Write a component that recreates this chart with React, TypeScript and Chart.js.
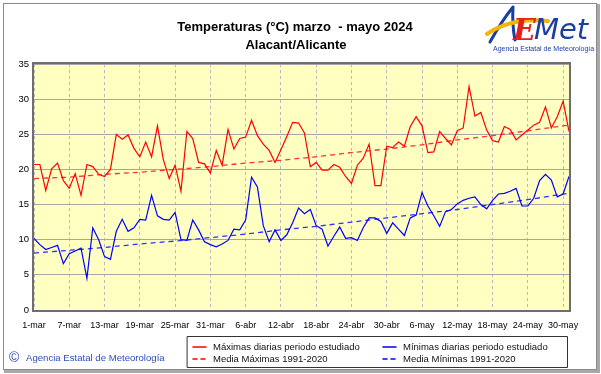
import { useEffect, useRef } from 'react';
import { Chart, registerables } from 'chart.js';

Chart.register(...registerables);

const tickLabels = ['1-mar', '7-mar', '13-mar', '19-mar', '25-mar', '31-mar', '6-abr', '12-abr', '18-abr', '24-abr', '30-abr', '6-may', '12-may', '18-may', '24-may', '30-may'];
const tickDays = [0, 6, 12, 18, 24, 30, 36, 42, 48, 54, 60, 66, 72, 78, 84, 90];
const yTicks = [0, 5, 10, 15, 20, 25, 30, 35];

const maxTemps = [
  20.7, 20.7, 17.0, 20.1, 20.9, 18.4, 17.3, 19.4, 16.3, 20.7,
  20.4, 19.3, 19.0, 20.0, 25.0, 24.3, 24.9, 23.0, 21.8, 23.9,
  21.8, 26.2, 21.4, 18.7, 20.6, 16.9, 25.4, 24.4, 21.0, 20.8,
  19.5, 22.7, 20.6, 25.7, 22.9, 24.4, 24.6, 27.0, 24.8, 23.6,
  22.7, 21.0, 22.8, 24.7, 26.7, 26.6, 25.2, 20.4, 21.0, 19.9,
  19.9, 20.7, 20.3, 19.0, 18.0, 20.6, 21.6, 23.6, 17.7, 17.7,
  23.3, 23.1, 23.9, 23.3, 26.1, 27.5, 26.2, 22.4, 22.5, 25.4,
  24.4, 23.5, 25.5, 25.9, 31.8, 27.6, 28.1, 25.6, 24.1, 23.9,
  26.1, 25.7, 24.2, 24.9, 25.6, 26.3, 26.7, 28.9, 25.9, 27.5,
  29.7, 25.4,
];

const minTemps = [
  10.2, 9.3, 8.6, 8.9, 9.2, 6.6, 8.0, 8.4, 8.8, 4.5,
  11.7, 10.0, 7.6, 7.2, 11.2, 12.9, 11.2, 11.7, 12.9, 12.8,
  16.3, 13.4, 12.9, 12.8, 13.9, 10.0, 9.9, 12.8, 11.4, 9.7,
  9.3, 9.0, 9.4, 9.9, 11.5, 11.4, 12.8, 18.9, 17.5, 12.0,
  9.7, 11.4, 9.9, 10.7, 12.4, 14.5, 13.7, 14.3, 12.0, 11.5,
  9.1, 10.5, 11.8, 10.2, 10.3, 9.9, 11.7, 13.1, 13.1, 12.6,
  10.9, 12.4, 11.5, 10.6, 13.1, 13.5, 16.7, 14.8, 13.4, 11.9,
  14.0, 14.3, 15.1, 15.6, 15.9, 16.1, 15.0, 14.4, 15.6, 16.5,
  16.6, 16.9, 17.3, 14.8, 14.8, 15.9, 18.4, 19.3, 18.5, 16.1,
  16.5, 19.0,
];

const normalDays = [0, 6, 12, 18, 24, 30, 36, 42, 48, 54, 60, 66, 72, 78, 84, 90, 91];
const normalMax = [18.7, 18.9, 19.3, 19.6, 20.0, 20.4, 20.9, 21.3, 21.8, 22.4, 22.9, 23.5, 24.2, 24.8, 25.5, 26.2, 26.3];
const normalMin = [8.1, 8.5, 8.9, 9.4, 9.8, 10.3, 10.8, 11.4, 11.9, 12.5, 13.1, 13.7, 14.3, 15.0, 15.7, 16.5, 16.6];

const legendLabels = ['Máximas diarias periodo estudiado', 'Mínimas diarias periodo estudiado', 'Media Máximas 1991-2020', 'Media Mínimas 1991-2020'];
const titleLines = ['Temperaturas (°C) marzo  - mayo 2024', 'Alacant/Alicante'];
const FONT = '"Liberation Sans", Arial, sans-serif';
const RED = '#ff0000';
const BLUE = '#0000ff';
const LOGO_BLUE = '#1b3f9e';

const decor = {
  id: 'decor',
  beforeDraw(chart: any) {
    const { ctx, chartArea: a } = chart;
    ctx.save();
    ctx.fillStyle = '#ffffff';
    ctx.fillRect(0, 0, chart.width, chart.height);
    ctx.fillStyle = '#ffffc2';
    ctx.fillRect(a.left, a.top, a.right - a.left, a.bottom - a.top);
    ctx.restore();
  },
  afterDraw(chart: any) {
    const { ctx, chartArea: a } = chart;
    ctx.save();
    // plot frame
    ctx.strokeStyle = '#6e6e6e';
    ctx.lineWidth = 2;
    ctx.strokeRect(a.left - 1, a.top - 1, a.right - a.left + 2, a.bottom - a.top + 2);

    // outer frame
    ctx.lineWidth = 1;
    ctx.strokeStyle = '#8a8a8a';
    ctx.strokeRect(3.5, 3.5, 593, 366);
    ctx.fillStyle = '#a8a8a8';
    ctx.fillRect(4, 370, 595, 3);
    ctx.fillRect(597, 4, 3, 369);

    // title
    ctx.fillStyle = '#000';
    ctx.textAlign = 'center';
    ctx.textBaseline = 'middle';
    ctx.font = `bold 13px ${FONT}`;
    ctx.fillText(titleLines[0], 295, 27);
    ctx.fillText(titleLines[1], 296, 45);

    // logo
    ctx.lineCap = 'round';
    ctx.lineJoin = 'round';
    ctx.strokeStyle = LOGO_BLUE;
    ctx.lineWidth = 3;
    ctx.beginPath();
    ctx.moveTo(490, 42);
    ctx.quadraticCurveTo(501, 22, 513, 7);
    ctx.quadraticCurveTo(512, 25, 515, 40);
    ctx.stroke();
    ctx.strokeStyle = '#f4b400';
    ctx.lineWidth = 4;
    ctx.beginPath();
    ctx.moveTo(487, 34);
    ctx.quadraticCurveTo(512, 17, 548, 21);
    ctx.stroke();
    ctx.textAlign = 'left';
    ctx.textBaseline = 'alphabetic';
    ctx.fillStyle = '#e2231a';
    ctx.font = `italic bold 30px "DejaVu Serif", serif`;
    ctx.fillText('E', 513, 40);
    ctx.fillStyle = LOGO_BLUE;
    ctx.font = `italic 29px "DejaVu Sans", sans-serif`;
    ctx.fillText('Met', 534, 39);
    ctx.font = `7px ${FONT}`;
    ctx.fillText('Agencia Estatal de Meteorología', 493, 51);

    // footnote
    ctx.fillStyle = '#2b50b8';
    ctx.font = `14px ${FONT}`;
    ctx.textBaseline = 'middle';
    ctx.fillText('©', 9, 358);
    ctx.font = `9.6px ${FONT}`;
    ctx.fillText('Agencia Estatal de Meteorología', 26, 358);

    // legend
    ctx.strokeStyle = '#333';
    ctx.lineWidth = 1;
    ctx.strokeRect(187.5, 336.5, 380, 31);
    const rows = [347, 359];
    const cols = [193, 383];
    const items = [
      { c: 0, r: 0, color: RED, dash: [] as number[] },
      { c: 1, r: 0, color: BLUE, dash: [] as number[] },
      { c: 0, r: 1, color: RED, dash: [4, 4] },
      { c: 1, r: 1, color: BLUE, dash: [4, 4] },
    ];
    ctx.font = `9.5px ${FONT}`;
    items.forEach((it, i) => {
      const x = cols[it.c];
      const y = rows[it.r];
      ctx.setLineDash(it.dash);
      ctx.strokeStyle = it.color;
      ctx.lineWidth = 1.5;
      ctx.beginPath();
      ctx.moveTo(x, y);
      ctx.lineTo(x + 13, y);
      ctx.stroke();
      ctx.setLineDash([]);
      ctx.fillStyle = '#111';
      ctx.fillText(legendLabels[i], x + 20, y);
    });
    ctx.restore();
  },
};

export default function App() {
  const ref = useRef<HTMLCanvasElement>(null);
  useEffect(() => {
    document.body.style.margin = '0';
    const canvas = ref.current;
    if (!canvas) return;
    const chart = new Chart(canvas, {
      type: 'line',
      data: {
        datasets: [
          {
            label: legendLabels[0],
            data: maxTemps.map((y, i) => ({ x: i, y })),
            borderColor: RED,
            borderWidth: 1.2,
            pointRadius: 0,
            tension: 0,
          },
          {
            label: legendLabels[1],
            data: minTemps.map((y, i) => ({ x: i, y })),
            borderColor: BLUE,
            borderWidth: 1.2,
            pointRadius: 0,
            tension: 0,
          },
          {
            label: legendLabels[2],
            data: normalDays.map((x, i) => ({ x, y: normalMax[i] })),
            borderColor: '#ff3030',
            borderWidth: 1.3,
            borderDash: [5, 4],
            pointRadius: 0,
            tension: 0,
          },
          {
            label: legendLabels[3],
            data: normalDays.map((x, i) => ({ x, y: normalMin[i] })),
            borderColor: '#3030ff',
            borderWidth: 1.3,
            borderDash: [5, 4],
            pointRadius: 0,
            tension: 0,
          },
        ],
      },
      options: {
        responsive: false,
        animation: false,
        devicePixelRatio: 1,
        layout: { padding: { top: 64, left: 0, right: 32, bottom: 40 } },
        plugins: {
          legend: { display: false },
          title: { display: false },
          tooltip: { enabled: false },
        },
        scales: {
          x: {
            type: 'linear',
            min: 0,
            max: maxTemps.length - 1,
            afterBuildTicks: (s: any) => {
              s.ticks = tickDays.map((v) => ({ value: v }));
            },
            afterFit: (s: any) => {
              s.height = 24;
            },
            ticks: {
              autoSkip: false,
              maxRotation: 0,
              padding: 10,
              color: '#000',
              font: { family: FONT, size: 9 },
              callback: (_v: any, i: number) => tickLabels[i],
            },
            grid: { color: '#b8b8b8', lineWidth: 1, drawTicks: false },
            border: { display: false, dash: [3, 3] },
          },
          y: {
            min: 0,
            max: 35,
            afterBuildTicks: (s: any) => {
              s.ticks = yTicks.map((v) => ({ value: v }));
            },
            afterFit: (s: any) => {
              s.width = 34;
            },
            ticks: {
              padding: 5,
              color: '#000',
              font: { family: FONT, size: 9.5 },
            },
            grid: { color: '#a6a6a6', lineWidth: 1, drawTicks: false },
            border: { display: false },
          },
        },
      },
      plugins: [decor],
    } as any);
    return () => chart.destroy();
  }, []);
  return <canvas ref={ref} width={601} height={374} style={{ display: 'block' }} />;
}
